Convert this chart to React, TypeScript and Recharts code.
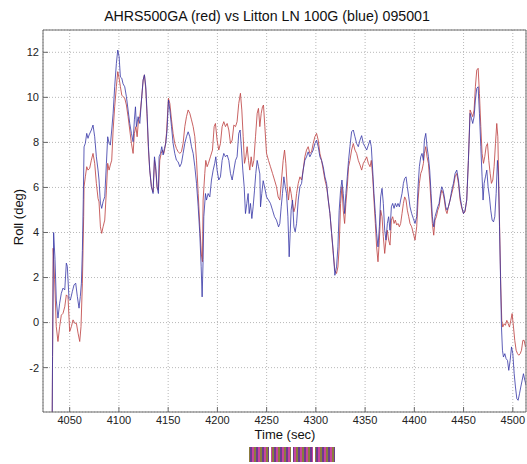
import React from 'react';
import { LineChart, Line, XAxis, YAxis, CartesianGrid } from 'recharts';

// AHRS500GA roll (red)
const redTime = [
  4032.0, 4032.6, 4033.2, 4034.7, 4036.4, 4038.1, 4039.8, 4041.5, 4043.2, 4045.0, 4046.6, 4048.3, 4050.0, 4051.7, 4053.4,
  4055.1, 4056.8, 4058.5, 4060.2, 4061.5, 4062.9, 4064.2, 4064.6, 4065.9, 4067.3, 4068.6, 4070.3, 4072.0, 4073.7, 4075.4,
  4077.1, 4078.8, 4079.8, 4081.2, 4082.5, 4083.9, 4085.6, 4087.3, 4088.6, 4090.0, 4091.3, 4092.7, 4094.1, 4095.7, 4097.4,
  4098.8, 4100.2, 4101.5, 4102.9, 4104.2, 4105.9, 4107.6, 4109.3, 4111.0, 4112.7, 4114.4, 4115.7, 4117.2, 4118.5, 4119.9,
  4121.2, 4122.9, 4124.6, 4125.9, 4127.3, 4128.6, 4130.0, 4131.3, 4133.0, 4134.7, 4136.1, 4137.4, 4138.8, 4140.1, 4141.5,
  4142.9, 4144.2, 4145.6, 4147.0, 4148.3, 4150.3, 4151.7, 4153.4, 4155.0, 4156.7, 4158.4, 4160.1, 4161.8, 4163.5, 4165.2,
  4166.9, 4168.6, 4170.3, 4172.0, 4173.7, 4175.4, 4177.1, 4178.8, 4180.5, 4182.2, 4183.8, 4184.8, 4185.5, 4187.2, 4188.2,
  4189.6, 4190.9, 4192.9, 4195.0, 4196.7, 4198.0, 4199.7, 4201.4, 4203.1, 4204.8, 4206.5, 4208.2, 4209.9, 4211.6, 4213.3,
  4215.0, 4216.7, 4218.4, 4220.0, 4221.7, 4223.4, 4224.8, 4226.2, 4227.5, 4228.9, 4230.2, 4231.6, 4232.9, 4234.3, 4235.6,
  4237.0, 4238.7, 4240.4, 4241.7, 4243.1, 4244.5, 4245.8, 4246.8, 4248.2, 4249.9, 4251.9, 4253.9, 4256.0, 4258.0, 4260.0,
  4261.7, 4263.4, 4265.1, 4266.8, 4268.2, 4269.5, 4270.9, 4272.2, 4273.6, 4274.9, 4276.3, 4277.7, 4279.0, 4280.4, 4282.1,
  4283.8, 4285.5, 4287.1, 4288.8, 4290.5, 4292.2, 4293.9, 4295.6, 4297.3, 4299.0, 4300.7, 4302.4, 4304.1, 4305.8, 4307.5,
  4309.2, 4310.9, 4312.6, 4314.3, 4316.0, 4317.6, 4319.3, 4321.0, 4322.4, 4323.7, 4325.1, 4326.5, 4327.8, 4329.2, 4330.5,
  4331.9, 4333.2, 4334.6, 4336.3, 4338.0, 4339.7, 4341.4, 4343.1, 4344.8, 4346.5, 4348.2, 4349.9, 4351.6, 4353.3, 4355.0,
  4356.3, 4357.7, 4359.0, 4360.4, 4361.7, 4363.1, 4364.5, 4365.8, 4367.2, 4368.5, 4369.9, 4371.2, 4372.6, 4373.9, 4375.3,
  4376.7, 4378.0, 4379.4, 4380.7, 4382.1, 4383.4, 4384.8, 4386.1, 4387.5, 4388.9, 4390.2, 4391.6, 4392.9, 4394.3, 4395.6,
  4397.3, 4399.0, 4400.7, 4402.4, 4403.8, 4405.1, 4406.5, 4407.8, 4409.2, 4410.2, 4411.6, 4412.9, 4414.3, 4415.6, 4417.0,
  4418.3, 4419.7, 4421.0, 4422.4, 4423.8, 4425.1, 4426.5, 4427.8, 4429.2, 4430.5, 4431.9, 4433.2, 4434.6, 4436.3, 4438.0,
  4439.7, 4441.4, 4443.1, 4444.8, 4446.5, 4448.2, 4449.9, 4451.5, 4453.2, 4454.9, 4456.6, 4458.0, 4459.3, 4460.7, 4462.0,
  4463.4, 4464.8, 4466.1, 4467.5, 4468.8, 4470.2, 4471.5, 4472.9, 4474.3, 4475.6, 4477.0, 4478.3, 4479.7, 4481.0, 4482.4,
  4483.7, 4484.8, 4485.8, 4486.8, 4487.8, 4488.8, 4489.8, 4491.2, 4492.5, 4493.9, 4495.3, 4496.6, 4498.0, 4499.3, 4500.7,
  4502.0, 4503.4, 4504.8, 4506.1, 4507.5, 4508.8, 4510.2, 4511.5, 4512.9,
];
const redRoll = [
  -6, -1.5, 3.3, 1.9, -0.18, -0.84, -0.18, 0.33, 0.41, 0.7, 1.23, 1.15, -0.4, -0.18, 0.12,
  -0.03, -0.03, -0.47, -0.84, -0.18, 1.75, 4.7, 6.03, 6.47, 6.92, 6.77, 6.85, 7.21, 7.51, 7.07,
  6.18, 5.51, 5.36, 4.25, 3.96, 4.25, 4.55, 5.88, 7.07, 6.77, 7.0, 7.21, 8.55, 9.58, 10.47,
  11.14, 10.85, 10.47, 10.1, 10.03, 9.96, 9.66, 9.14, 8.55, 7.96, 7.51, 8.4, 8.7, 8.25, 9.0,
  9.14, 9.88, 10.77, 11.0, 10.33, 9.14, 7.66, 6.77, 6.03, 5.8, 7.21, 6.77, 5.96, 5.88, 7.21,
  7.51, 7.66, 7.51, 7.81, 8.4, 9.96, 9.73, 9.0, 8.4, 7.96, 7.73, 7.59, 7.51, 7.59, 7.96,
  8.7, 9.14, 9.44, 9.29, 9.0, 8.7, 8.25, 7.21, 5.73, 4.25, 3.0, 2.7, 5.44, 6.62, 7.2,
  6.92, 7.07, 7.36, 7.66, 8.7, 8.84, 8.1, 7.66, 7.95, 8.7, 8.92, 8.7, 8.84, 8.55, 7.95,
  8.1, 8.77, 8.7, 8.92, 9.73, 10.18, 9.44, 8.25, 7.07, 7.36, 7.81, 7.2, 6.77, 7.36, 6.92,
  7.2, 8.25, 9.29, 9.51, 8.7, 9.29, 9.58, 9.66, 8.7, 7.51, 7.2, 6.92, 6.62, 6.33, 6.03,
  5.58, 5.44, 6.33, 7.2, 7.66, 7.07, 6.03, 5.44, 6.03, 5.73, 5.29, 4.92, 5.14, 5.73, 6.18,
  6.47, 6.33, 6.77, 7.36, 7.66, 7.81, 7.51, 7.58, 7.95, 8.25, 8.4, 8.1, 7.51, 7.2, 6.77,
  6.33, 6.03, 5.44, 4.84, 3.96, 3.07, 2.32, 2.18, 2.47, 3.36, 5.29, 6.03, 4.99, 4.4, 5.29,
  6.03, 6.92, 7.2, 7.66, 7.95, 7.66, 7.51, 7.2, 7.0, 6.77, 7.07, 7.2, 7.36, 7.07, 6.92,
  7.2, 6.47, 5.44, 4.4, 3.36, 2.7, 3.66, 4.99, 4.7, 3.81, 3.07, 3.66, 4.1, 3.66, 3.44,
  4.55, 4.7, 4.4, 4.55, 4.33, 4.4, 4.25, 4.4, 4.84, 5.29, 5.58, 5.44, 4.99, 4.7, 4.4,
  4.25, 3.96, 3.66, 4.25, 5.44, 6.18, 6.62, 6.77, 7.07, 7.51, 7.81, 7.36, 7.07, 6.33, 5.29,
  4.4, 3.88, 4.55, 4.7, 4.99, 5.14, 5.58, 5.88, 5.73, 5.44, 4.99, 4.84, 5.14, 5.44, 5.73,
  6.03, 6.47, 6.62, 6.18, 5.44, 5.07, 4.84, 4.92, 5.44, 7.2, 9.44, 9.29, 9.14, 9.44, 10.47,
  11.21, 11.29, 10.18, 8.7, 7.51, 7.07, 7.36, 7.81, 7.95, 7.2, 6.62, 6.18, 6.33, 6.92, 7.95,
  8.84, 8.25, 6.03, 3.81, 1.58, 0.1, -0.2, -0.05, -0.12, 0.1, -0.05, -0.2, 0.1, 0.4, -0.2,
  -0.79, -1.23, -1.38, -1.45, -1.38, -1.23, -0.79, -0.79, -1.08,
];

// Litton LN 100G roll (blue)
const blueTime = [
  4032.0, 4032.6, 4033.7, 4035.1, 4036.4, 4038.1, 4039.8, 4041.5, 4043.2, 4045.0, 4046.6, 4047.6, 4049.3, 4050.7, 4052.7,
  4054.4, 4056.1, 4057.8, 4059.5, 4060.8, 4061.9, 4062.9, 4063.8, 4064.6, 4065.9, 4067.3, 4068.6, 4069.7, 4072.0, 4073.7,
  4075.4, 4077.1, 4078.8, 4079.8, 4081.2, 4082.5, 4083.9, 4085.6, 4087.3, 4088.6, 4090.0, 4091.3, 4092.7, 4094.1, 4095.7,
  4097.4, 4098.8, 4100.2, 4101.5, 4102.9, 4104.2, 4105.9, 4107.6, 4109.3, 4111.0, 4112.7, 4114.4, 4115.7, 4116.8, 4117.8,
  4119.5, 4121.2, 4122.9, 4124.6, 4125.9, 4127.3, 4128.6, 4130.0, 4131.3, 4133.0, 4134.7, 4136.1, 4137.4, 4138.8, 4140.1,
  4140.8, 4142.2, 4143.5, 4144.9, 4146.2, 4147.6, 4148.9, 4150.3, 4151.7, 4153.4, 4155.0, 4156.7, 4158.4, 4160.1, 4161.8,
  4163.5, 4165.2, 4166.9, 4168.6, 4170.3, 4172.0, 4173.7, 4175.4, 4177.1, 4178.8, 4180.5, 4182.1, 4183.5, 4184.5, 4185.5,
  4186.2, 4187.9, 4188.9, 4190.6, 4192.3, 4194.0, 4195.7, 4197.3, 4198.4, 4199.7, 4201.4, 4203.1, 4204.8, 4206.5, 4208.2,
  4209.9, 4211.6, 4213.3, 4215.0, 4216.7, 4218.4, 4220.0, 4221.7, 4223.1, 4224.5, 4225.8, 4227.2, 4228.5, 4229.9, 4231.2,
  4232.3, 4233.6, 4235.0, 4236.3, 4237.7, 4239.0, 4240.4, 4241.7, 4243.1, 4243.8, 4245.1, 4246.5, 4248.5, 4249.9, 4251.9,
  4253.9, 4256.0, 4258.0, 4260.0, 4262.1, 4263.4, 4264.8, 4266.1, 4267.5, 4268.9, 4270.2, 4271.6, 4272.9, 4273.9, 4274.9,
  4276.3, 4277.7, 4279.0, 4280.4, 4282.1, 4283.8, 4285.5, 4287.1, 4288.8, 4290.5, 4292.2, 4293.9, 4295.6, 4297.3, 4299.0,
  4300.7, 4302.4, 4304.1, 4305.8, 4307.5, 4309.2, 4310.9, 4312.6, 4314.3, 4316.0, 4317.6, 4319.3, 4321.0, 4322.4, 4323.7,
  4325.1, 4326.5, 4327.8, 4329.2, 4330.5, 4331.9, 4333.2, 4334.6, 4336.3, 4338.0, 4339.7, 4341.4, 4343.1, 4344.8, 4346.5,
  4348.2, 4349.9, 4351.6, 4353.3, 4355.0, 4356.3, 4357.7, 4359.0, 4360.4, 4361.7, 4363.1, 4364.5, 4365.8, 4367.2, 4368.5,
  4369.9, 4371.2, 4372.6, 4373.9, 4375.3, 4376.7, 4378.0, 4379.4, 4380.7, 4382.1, 4383.4, 4384.8, 4386.1, 4387.5, 4388.9,
  4390.2, 4391.6, 4392.9, 4394.3, 4395.6, 4397.3, 4399.0, 4400.7, 4402.4, 4403.8, 4405.1, 4406.5, 4407.8, 4409.2, 4410.2,
  4411.6, 4412.9, 4414.3, 4415.6, 4417.0, 4418.3, 4419.7, 4421.0, 4422.4, 4423.8, 4425.1, 4426.5, 4427.8, 4429.2, 4430.5,
  4431.9, 4433.2, 4434.6, 4436.3, 4438.0, 4439.7, 4441.4, 4443.1, 4444.8, 4446.5, 4448.2, 4449.9, 4451.5, 4453.2, 4454.9,
  4456.6, 4458.0, 4459.3, 4460.7, 4462.0, 4463.4, 4464.8, 4466.1, 4467.5, 4468.8, 4469.8, 4470.9, 4472.2, 4473.6, 4474.9,
  4476.3, 4477.6, 4479.0, 4480.4, 4481.7, 4483.1, 4484.4, 4485.4, 4486.5, 4487.5, 4488.5, 4489.5, 4490.5, 4491.9, 4493.2,
  4494.6, 4495.9, 4497.3, 4498.7, 4500.0, 4501.4, 4502.7, 4504.1, 4505.4, 4506.8, 4508.1, 4509.5, 4510.8, 4512.2, 4513.6,
];
const blueRoll = [
  -6, -1.5, 4.0, 2.8, 1.0, 0.2, 0.86, 1.3, 1.53, 1.45, 2.64, 2.5, 1.07, 1.0, 1.38,
  1.67, 1.75, 1.15, 0.64, 1.16, 1.75, 3.2, 5.45, 7.8, 7.96, 8.4, 8.18, 8.33, 8.55, 8.77,
  8.25, 7.36, 6.77, 6.33, 5.3, 5.07, 5.36, 5.59, 7.07, 8.25, 7.96, 7.88, 8.55, 9.29, 10.47,
  11.5, 12.1, 11.8, 10.9, 10.85, 10.6, 10.47, 10.03, 9.44, 8.84, 8.4, 8.03, 9.0, 9.58, 8.7,
  9.14, 8.84, 9.88, 10.77, 11.0, 10.47, 9.29, 7.81, 6.77, 6.03, 5.73, 7.36, 6.92, 6.03, 5.73,
  7.36, 7.51, 7.81, 7.44, 7.73, 7.96, 8.55, 9.88, 9.44, 8.7, 7.96, 7.51, 7.21, 7.14, 6.92,
  7.07, 7.51, 7.96, 8.25, 8.47, 8.25, 7.81, 7.51, 6.92, 6.18, 5.14, 3.96, 2.5, 1.14, 2.79,
  4.7, 5.73, 5.44, 5.73, 5.58, 6.33, 6.77, 7.07, 7.36, 6.77, 6.33, 6.47, 7.2, 7.51, 7.36,
  7.44, 7.2, 6.62, 6.33, 6.77, 7.2, 7.36, 8.4, 8.55, 7.66, 6.77, 6.03, 4.84, 5.29, 5.73,
  4.84, 5.29, 4.62, 5.14, 5.88, 6.62, 7.2, 6.92, 6.6, 5.14, 5.73, 6.3, 5.9, 5.58, 5.44,
  5.29, 4.99, 4.7, 4.55, 4.25, 4.4, 5.14, 5.73, 6.47, 6.03, 5.73, 4.7, 2.92, 3.96, 4.99,
  5.44, 4.25, 4.03, 4.4, 5.44, 6.03, 6.18, 6.77, 7.2, 7.36, 7.58, 7.36, 7.51, 7.66, 7.95,
  8.1, 7.81, 7.36, 7.2, 6.92, 6.47, 6.18, 5.44, 4.84, 3.96, 3.2, 2.1, 2.47, 3.36, 4.99,
  5.88, 6.33, 5.73, 4.84, 5.73, 6.47, 7.2, 7.81, 8.47, 8.55, 8.25, 7.95, 7.81, 8.1, 8.3,
  7.95, 7.81, 7.66, 7.88, 8.1, 7.81, 6.77, 5.73, 4.84, 3.96, 3.36, 4.25, 5.58, 5.96, 5.29,
  4.1, 3.66, 4.4, 4.7, 4.1, 5.14, 5.29, 5.07, 5.29, 5.14, 5.29, 5.14, 5.44, 5.73, 6.18,
  6.4, 6.47, 6.03, 5.58, 5.14, 4.84, 4.62, 4.4, 4.7, 6.03, 6.92, 7.36, 7.51, 7.2, 8.1,
  8.4, 7.81, 7.36, 6.77, 5.73, 4.7, 4.25, 4.7, 4.92, 5.14, 5.29, 5.73, 6.03, 5.88, 5.58,
  5.14, 4.99, 5.14, 5.44, 5.88, 6.18, 6.62, 6.77, 6.33, 5.58, 5.14, 4.84, 4.99, 5.44, 7.2,
  9.29, 9.07, 8.84, 9.14, 9.88, 10.4, 10.47, 9.29, 7.81, 6.47, 5.44, 6.18, 6.47, 6.77, 6.03,
  5.58, 4.99, 4.55, 4.47, 4.7, 5.73, 7.2, 6.47, 4.25, 2.03, -0.2, -1.23, -1.53, -1.38, -1.6,
  -1.68, -2.12, -1.68, -1.08, -1.38, -2.27, -2.86, -3.38, -3.45, -3.16, -2.86, -2.56, -2.27, -2.56, -2.79,
];

const timeTicks = [4050, 4100, 4150, 4200, 4250, 4300, 4350, 4400, 4450, 4500];
const rollTicks = [-2, 0, 2, 4, 6, 8, 10, 12];

const redData = redTime.map((t, i) => ({ t, v: redRoll[i] }));
const blueData = blueTime.map((t, i) => ({ t, v: blueRoll[i] }));

const font = '"Liberation Sans", Arial, sans-serif';
const tickStyle = { fill: '#222', fontSize: 11, fontFamily: font };
const axisColor = '#6a6a6a';
const timeDomain = [4022.9, 4513.4];
const rollDomain = [-3.97, 12.99];

export default function App() {
  return (
    <div style={{ position: 'absolute', left: 0, top: 0, width: 527, height: 464, background: '#fff' }}>
      <LineChart width={527} height={464} margin={{ top: 0, right: 0, bottom: 0, left: 0 }}>
        <CartesianGrid stroke="#b8b8b8" strokeDasharray="1 2" />
        <XAxis
          type="number"
          dataKey="t"
          domain={timeDomain}
          ticks={timeTicks}
          allowDataOverflow
          height={52}
          tickSize={-5}
          tickMargin={9}
          tick={tickStyle}
          stroke={axisColor}
        />
        <XAxis
          xAxisId="top"
          orientation="top"
          type="number"
          dataKey="t"
          domain={timeDomain}
          ticks={timeTicks}
          allowDataOverflow
          height={30}
          tickSize={-5}
          tick={false}
          stroke={axisColor}
        />
        <YAxis
          type="number"
          domain={rollDomain}
          ticks={rollTicks}
          allowDataOverflow
          width={43}
          tickSize={-5}
          tickMargin={9}
          tick={tickStyle}
          stroke={axisColor}
        />
        <YAxis
          yAxisId="right"
          orientation="right"
          type="number"
          domain={rollDomain}
          ticks={rollTicks}
          allowDataOverflow
          width={1}
          tickSize={-5}
          tick={false}
          stroke={axisColor}
        />
        <Line
          data={redData}
          dataKey="v"
          type="linear"
          stroke="#c04848"
          strokeWidth={1}
          strokeOpacity={0.85}
          dot={false}
          isAnimationActive={false}
        />
        <Line
          data={blueData}
          dataKey="v"
          type="linear"
          stroke="#3636a6"
          strokeWidth={1}
          strokeOpacity={0.8}
          dot={false}
          isAnimationActive={false}
        />
      </LineChart>
      <svg width={527} height={464} style={{ position: 'absolute', left: 0, top: 0, pointerEvents: 'none' }}>
        <defs>
          <pattern id="junk" width={6} height={15} patternUnits="userSpaceOnUse">
            <rect x={0} y={0} width={2} height={15} fill="#c8449c" />
            <rect x={2} y={0} width={2} height={15} fill="#8c7c3c" />
            <rect x={4} y={0} width={2} height={15} fill="#6c3c90" />
          </pattern>
        </defs>
        <text x={267} y={20.5} textAnchor="middle" fontSize={14.2} fontFamily={font} fill="#111">
          AHRS500GA (red) vs Litton LN 100G (blue) 095001
        </text>
        <text
          x={22.5}
          y={217}
          transform="rotate(-90 22.5 217)"
          textAnchor="middle"
          fontSize={13}
          fontFamily={font}
          fill="#111"
        >
          Roll (deg)
        </text>
        <text x={285} y={439} textAnchor="middle" fontSize={13} fontFamily={font} fill="#111">
          Time (sec)
        </text>
        {[249, 271, 293, 315].map((x) => (
          <rect key={x} x={x} y={447} width={20} height={15} fill="url(#junk)" />
        ))}
      </svg>
    </div>
  );
}
